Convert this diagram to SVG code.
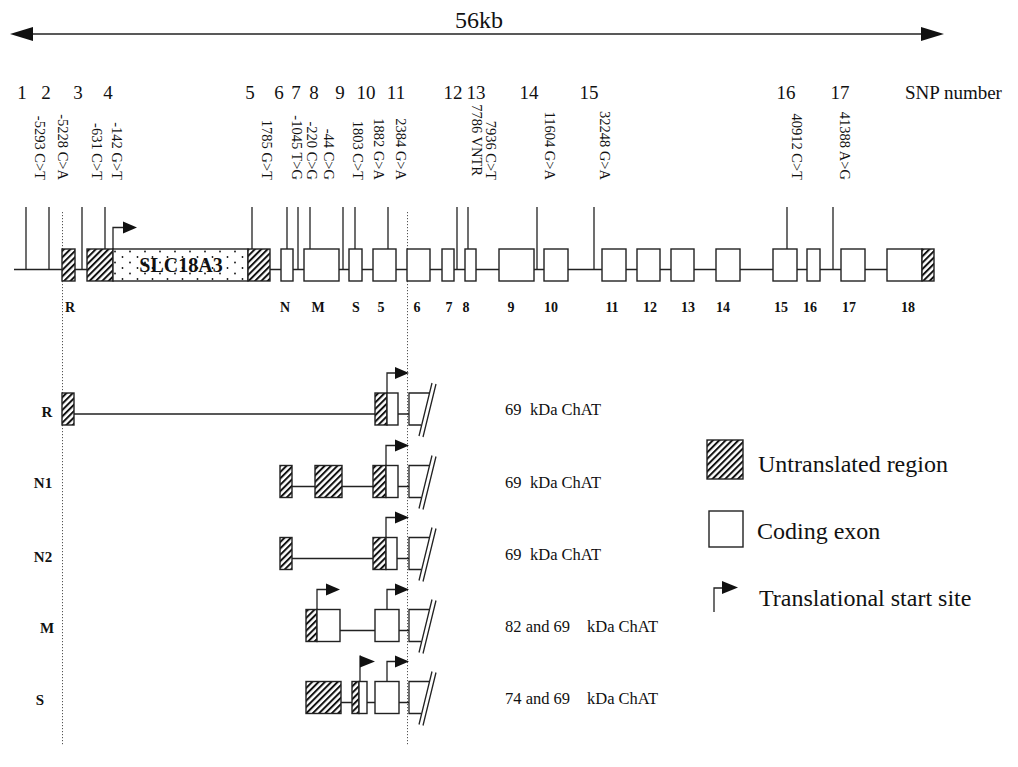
<svg xmlns="http://www.w3.org/2000/svg" width="1018" height="767" viewBox="0 0 1018 767">
<defs>
<pattern id="hatch" patternUnits="userSpaceOnUse" width="4.5" height="4.5" patternTransform="rotate(45)">
<rect width="4.5" height="4.5" fill="#fff"/>
<line x1="1" y1="0" x2="1" y2="4.5" stroke="#111" stroke-width="2"/>
</pattern>
<pattern id="dots" patternUnits="userSpaceOnUse" x="113" y="250" width="15" height="11">
<rect width="15" height="11" fill="#fff"/>
<circle cx="2" cy="1.5" r="0.9" fill="#111"/>
<circle cx="9.5" cy="7" r="0.9" fill="#111"/>
</pattern>
</defs>
<style>
text{font-family:"Liberation Serif","Times New Roman",serif;fill:#111}
.num{font-size:19px;text-anchor:middle}
.snp{font-size:14.5px;text-anchor:end}
.ex{font-size:14px;font-weight:bold;text-anchor:middle}
.row{font-size:15px;font-weight:bold;text-anchor:middle}
.kda{font-size:16.5px}
.leg{font-size:24px}
.box{fill:#fff;stroke:#222;stroke-width:1.4}
.utr{fill:url(#hatch);stroke:#222;stroke-width:1.4}
.ln{stroke:#222;stroke-width:1.3;fill:none}
.dot{stroke:#555;stroke-width:1;stroke-dasharray:1.2 1.8;fill:none}
.tri{fill:#111;stroke:none}
</style>
<rect width="1018" height="767" fill="#fff"/>

<g id="scale">
<line class="ln" x1="28" y1="34" x2="925" y2="34" stroke-width="1.6"/>
<polygon class="tri" points="10,34 33,27 33,41"/>
<polygon class="tri" points="944,34 921,27 921,41"/>
<text x="479" y="28" style="font-size:24px;text-anchor:middle">56kb</text>
</g>

<g id="snp-numbers">
<text class="num" x="22" y="99">1</text>
<text class="num" x="46" y="99">2</text>
<text class="num" x="78" y="99">3</text>
<text class="num" x="108" y="99">4</text>
<text class="num" x="250" y="99">5</text>
<text class="num" x="279" y="99">6</text>
<text class="num" x="296" y="99">7</text>
<text class="num" x="314" y="99">8</text>
<text class="num" x="340" y="99">9</text>
<text class="num" x="366" y="99">10</text>
<text class="num" x="396" y="99">11</text>
<text class="num" x="453" y="99">12</text>
<text class="num" x="476" y="99">13</text>
<text class="num" x="529" y="99">14</text>
<text class="num" x="589" y="99">15</text>
<text class="num" x="786" y="99">16</text>
<text class="num" x="840" y="99">17</text>
<text x="905" y="99" style="font-size:19px">SNP number</text>
</g>

<g id="snp-labels">
<text class="snp" transform="translate(40,180) rotate(90)" dy="0.35em">-5293 C&gt;T</text>
<text class="snp" transform="translate(63,180) rotate(90)" dy="0.35em">-5228 C&gt;A</text>
<text class="snp" transform="translate(97,180) rotate(90)" dy="0.35em">-631 C&gt;T</text>
<text class="snp" transform="translate(117,180) rotate(90)" dy="0.35em">-142 G&gt;T</text>
<text class="snp" transform="translate(267,180) rotate(90)" dy="0.35em">1785 G&gt;T</text>
<text class="snp" transform="translate(297,180) rotate(90)" dy="0.35em">-1045 T&gt;G</text>
<text class="snp" transform="translate(312,180) rotate(90)" dy="0.35em">-220 C&gt;G</text>
<text class="snp" transform="translate(329,180) rotate(90)" dy="0.35em">-44 C&gt;G</text>
<text class="snp" transform="translate(358,180) rotate(90)" dy="0.35em">1803 C&gt;T</text>
<text class="snp" transform="translate(379,180) rotate(90)" dy="0.35em">1882 G&gt;A</text>
<text class="snp" transform="translate(401,180) rotate(90)" dy="0.35em">2384 G&gt;A</text>
<text class="snp" transform="translate(477,176) rotate(90)" dy="0.35em">7786 VNTR</text>
<text class="snp" transform="translate(491,180) rotate(90)" dy="0.35em">7936 C&gt;T</text>
<text class="snp" transform="translate(550,180) rotate(90)" dy="0.35em">11604 G&gt;A</text>
<text class="snp" transform="translate(605,180) rotate(90)" dy="0.35em">32248 G&gt;A</text>
<text class="snp" transform="translate(797,180) rotate(90)" dy="0.35em">40912 C&gt;T</text>
<text class="snp" transform="translate(845,180) rotate(90)" dy="0.35em">41388 A&gt;G</text>
</g>

<g id="connectors">
<line class="ln" x1="14" y1="269.5" x2="887" y2="269.5"/>
<path class="ln" d="M26,207V269.5M49,207V269.5M82,207V269.5M105,207V269.5M252,207V269.5M287,207V269.5M298,207V269.5M310,207V269.5M343,207V269.5M355,207V269.5M388,207V269.5M457,207V269.5M468,207V269.5M537,207V269.5M594,207V269.5M787,207V269.5M833,207V269.5"/>
<line class="dot" x1="62.5" y1="212" x2="62.5" y2="746"/>
<line class="dot" x1="407.5" y1="212" x2="407.5" y2="746"/>
<path class="ln" d="M74,414H409M292,486.5H409M292,558.5H409M340,630.5H409M341,702.5H409"/>
</g>

<g id="gene-map">
<g id="exon-R"><rect class="utr" x="62" y="249" width="13" height="32"/></g>
<g id="slc18a3">
<rect class="utr" x="87" y="249" width="26" height="32"/>
<rect x="113" y="249" width="135" height="32" fill="url(#dots)" stroke="#222" stroke-width="1.4"/>
<rect class="utr" x="248" y="249" width="22" height="32"/>
<text x="181" y="272" style="font-size:20px;font-weight:bold;text-anchor:middle">SLC18A3</text>
<path class="ln" d="M113,249V227.5H123"/>
<polygon class="tri" points="123,221.5 137,227.5 123,233.5"/>
</g>
<g id="exon-N"><rect class="box" x="281" y="249" width="12" height="32"/></g>
<g id="exon-M"><rect class="box" x="304" y="249" width="35" height="32"/></g>
<g id="exon-S"><rect class="box" x="349" y="249" width="13" height="32"/></g>
<g id="exon-5"><rect class="box" x="373" y="249" width="23" height="32"/></g>
<g id="exon-6"><rect class="box" x="407" y="249" width="23" height="32"/></g>
<g id="exon-7"><rect class="box" x="442" y="249" width="12" height="32"/></g>
<g id="exon-8"><rect class="box" x="465" y="249" width="11" height="32"/></g>
<g id="exon-9"><rect class="box" x="499" y="249" width="35" height="32"/></g>
<g id="exon-10"><rect class="box" x="544" y="249" width="24" height="32"/></g>
<g id="exon-11"><rect class="box" x="602" y="249" width="24" height="32"/></g>
<g id="exon-12"><rect class="box" x="637" y="249" width="23" height="32"/></g>
<g id="exon-13"><rect class="box" x="671" y="249" width="23" height="32"/></g>
<g id="exon-14"><rect class="box" x="716" y="249" width="24" height="32"/></g>
<g id="exon-15"><rect class="box" x="773" y="249" width="24" height="32"/></g>
<g id="exon-16"><rect class="box" x="807" y="249" width="13" height="32"/></g>
<g id="exon-17"><rect class="box" x="841" y="249" width="24" height="32"/></g>
<g id="exon-18"><rect class="box" x="887" y="249" width="35" height="32"/><rect class="utr" x="922" y="249" width="12" height="32"/></g>
</g>

<g id="exon-labels">
<text class="ex" x="70" y="312">R</text>
<text class="ex" x="285" y="312">N</text>
<text class="ex" x="318" y="312">M</text>
<text class="ex" x="356" y="312">S</text>
<text class="ex" x="381" y="312">5</text>
<text class="ex" x="417" y="312">6</text>
<text class="ex" x="449" y="312">7</text>
<text class="ex" x="466" y="312">8</text>
<text class="ex" x="511" y="312">9</text>
<text class="ex" x="551" y="312">10</text>
<text class="ex" x="612" y="312">11</text>
<text class="ex" x="650" y="312">12</text>
<text class="ex" x="688" y="312">13</text>
<text class="ex" x="723" y="312">14</text>
<text class="ex" x="781" y="312">15</text>
<text class="ex" x="810" y="312">16</text>
<text class="ex" x="849" y="312">17</text>
<text class="ex" x="908" y="312">18</text>
</g>

<g id="transcript-R">
<text class="row" x="47" y="417">R</text>
<rect class="utr" x="62" y="393" width="12" height="32"/>
<rect class="utr" x="375" y="393" width="12" height="32"/>
<rect class="box" x="387" y="393" width="11" height="32"/>
<path class="ln" d="M429,393H409V425H421M432,383L419,436M436,384L423,437"/>
<path class="ln" d="M387,393V373H395"/>
<polygon class="tri" points="395,367 409,373 395,379"/>
<text class="kda" y="415"><tspan x="505">69</tspan><tspan x="530">kDa ChAT</tspan></text>
</g>

<g id="transcript-N1">
<text class="row" x="43" y="488">N1</text>
<rect class="utr" x="280" y="465.5" width="12" height="32"/>
<rect class="utr" x="315" y="465.5" width="27" height="32"/>
<rect class="utr" x="373" y="465.5" width="13" height="32"/>
<rect class="box" x="386" y="465.5" width="12" height="32"/>
<path class="ln" d="M429,465.5H409V497.5H421M432,455.5L419,508.5M436,456.5L423,509.5"/>
<path class="ln" d="M386,465.5V445.5H395"/>
<polygon class="tri" points="395,439.5 409,445.5 395,451.5"/>
<text class="kda" y="488"><tspan x="505">69</tspan><tspan x="530">kDa ChAT</tspan></text>
</g>

<g id="transcript-N2">
<text class="row" x="43" y="562">N2</text>
<rect class="utr" x="280" y="537.5" width="12" height="32"/>
<rect class="utr" x="373" y="537.5" width="13" height="32"/>
<rect class="box" x="386" y="537.5" width="11" height="32"/>
<path class="ln" d="M429,537.5H409V569.5H421M432,527.5L419,580.5M436,528.5L423,581.5"/>
<path class="ln" d="M386,537.5V517.5H395"/>
<polygon class="tri" points="395,511.5 409,517.5 395,523.5"/>
<text class="kda" y="560"><tspan x="505">69</tspan><tspan x="530">kDa ChAT</tspan></text>
</g>

<g id="transcript-M">
<text class="row" x="47" y="633">M</text>
<rect class="utr" x="306" y="609.5" width="11" height="32"/>
<rect class="box" x="317" y="609.5" width="23" height="32"/>
<rect class="box" x="375" y="609.5" width="24" height="32"/>
<path class="ln" d="M429,609.5H409V641.5H421M432,599.5L419,652.5M436,600.5L423,653.5"/>
<path class="ln" d="M317,609.5V589.5H326"/>
<polygon class="tri" points="326,583.5 340,589.5 326,595.5"/>
<path class="ln" d="M387,609.5V589.5H395"/>
<polygon class="tri" points="395,583.5 409,589.5 395,595.5"/>
<text class="kda" y="632"><tspan x="505">82 and 69</tspan><tspan x="587">kDa ChAT</tspan></text>
</g>

<g id="transcript-S">
<text class="row" x="40" y="705">S</text>
<rect class="utr" x="306" y="681.5" width="35" height="32"/>
<rect class="utr" x="352" y="681.5" width="7" height="32"/>
<rect class="box" x="359" y="681.5" width="8" height="32"/>
<rect class="box" x="375" y="681.5" width="24" height="32"/>
<path class="ln" d="M429,681.5H409V713.5H421M432,671.5L419,724.5M436,672.5L423,725.5"/>
<path class="ln" d="M360,681.5V655.5"/>
<polygon class="tri" points="360,655.5 375,661.5 360,667.5"/>
<path class="ln" d="M387,681.5V661.5H395"/>
<polygon class="tri" points="395,655.5 409,661.5 395,667.5"/>
<text class="kda" y="704"><tspan x="505">74 and 69</tspan><tspan x="587">kDa ChAT</tspan></text>
</g>

<g id="legend">
<g id="legend-utr"><rect class="utr" x="707" y="440" width="36" height="39"/><text class="leg" x="758" y="472">Untranslated region</text></g>
<g id="legend-coding"><rect class="box" x="709" y="511" width="34" height="36"/><text class="leg" x="757" y="539">Coding exon</text></g>
<g id="legend-start"><path class="ln" d="M714,612V588H722"/><polygon class="tri" points="722,581 738,587.5 722,594"/><text class="leg" x="759" y="606">Translational start site</text></g>
</g>
</svg>
